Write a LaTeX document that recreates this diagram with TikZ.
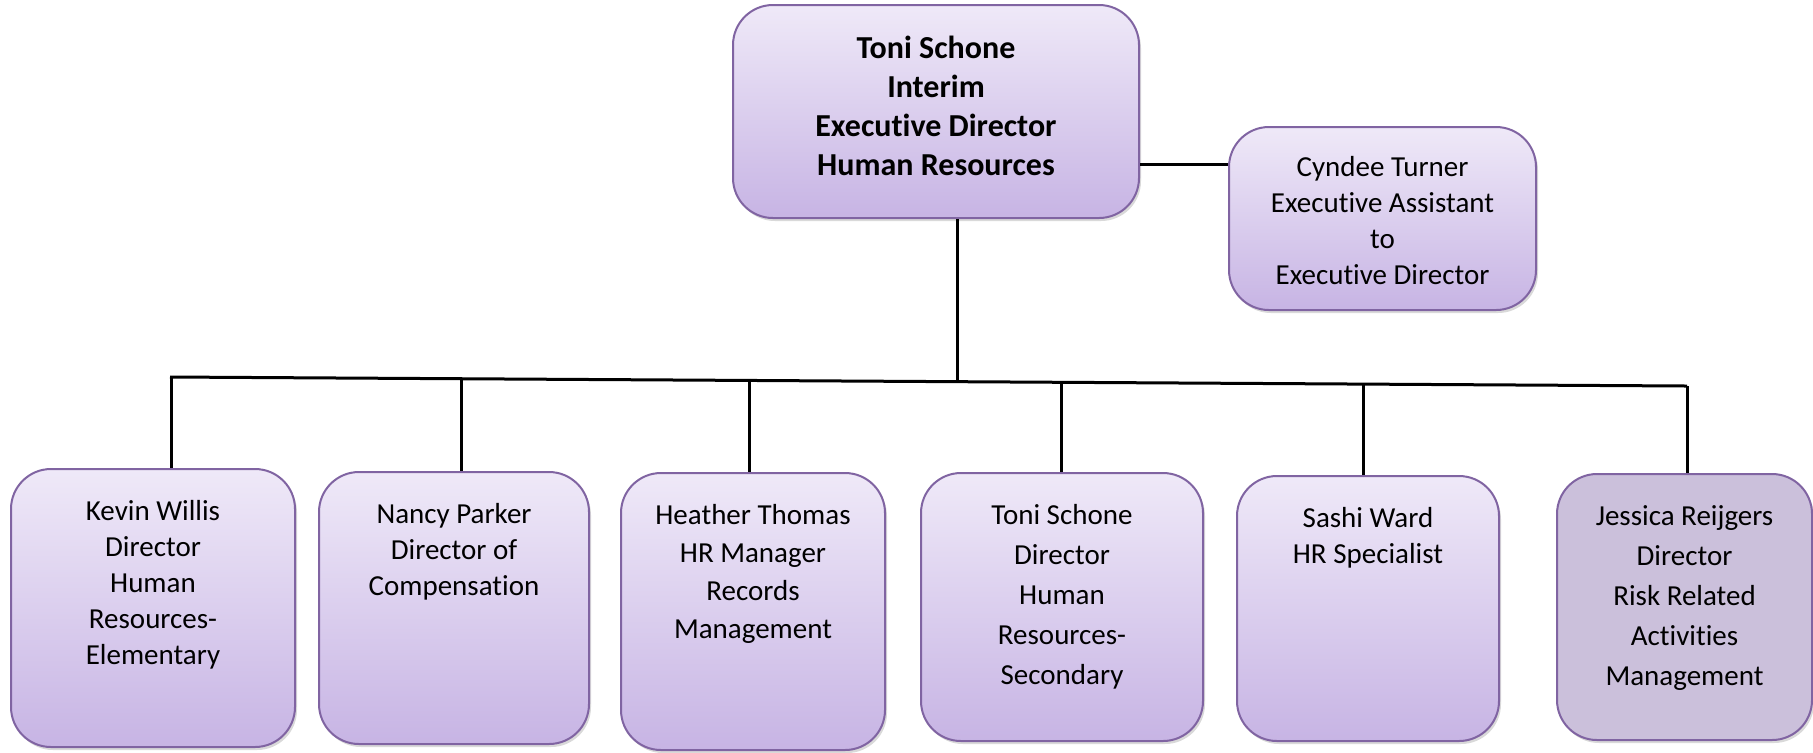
\documentclass[tikz,border=0pt]{standalone}
\usepackage{fontspec}
\setmainfont{Carlito}[Ligatures=NoCommon]
\usepackage{xcolor}
\usepackage{tikz}
\usetikzlibrary{calc}
\usetikzlibrary{shadows}

\definecolor{boxline}{HTML}{8064A2}
\definecolor{boxtop}{HTML}{EFE9F8}
\definecolor{boxbottom}{HTML}{C7B4E4}
\definecolor{riskfill}{HTML}{CBC0DB}

\tikzset{
    boxbase/.style={draw=boxline, line width=1pt, rounded corners=20pt,
        drop shadow={opacity=0.3, shadow xshift=1pt, shadow yshift=-1.5pt}},
    orgbox/.style={boxbase, top color=boxtop, bottom color=boxbottom},
    riskbox/.style={boxbase, fill=riskfill},
    orgtext/.style={anchor=north, align=center, inner sep=0pt, yshift=-16pt,
        font=\fontsize{14.5}{18}\selectfont},
    link/.style={line width=1.5pt}
}

\begin{document}
\begin{tikzpicture}[x=0.5pt, y=-0.5pt]
            \useasboundingbox (0,0) rectangle (1813,752);

            %%% COORDINATES %%%
            \coordinate (busL) at (170,377);
            \coordinate (busR) at (1687,386);
            \coordinate (hub) at (957,381.7);
            \coordinate (aside) at (1180,164);
            \coordinate (tap1) at (171,377);
            \coordinate (tap2) at (461,378.7);
            \coordinate (tap3) at (749,380.4);
            \coordinate (tap4) at (1061,382.3);
            \coordinate (tap5) at (1363,384.1);
            \coordinate (tap6) at (1687,386);

            %%% BOXES %%%
            \node[orgbox, minimum width=203pt, minimum height=106.5pt] (head) at (936,111.5) {};
            \node[orgbox, minimum width=153.5pt, minimum height=91.5pt] (assist) at (1382.5,218.5) {};
            \node[orgbox, minimum width=142pt, minimum height=139pt] (kevin) at (153,608) {};
            \node[orgbox, minimum width=135pt, minimum height=136pt] (nancy) at (454,608) {};
            \node[orgbox, minimum width=132pt, minimum height=138.5pt] (heather) at (753,611.5) {};
            \node[orgbox, minimum width=141pt, minimum height=134pt] (toni) at (1062,607) {};
            \node[orgbox, minimum width=131pt, minimum height=132.5pt] (sashi) at (1368,608.5) {};
            \node[riskbox, minimum width=127.5pt, minimum height=133pt] (jessica) at (1684.5,607) {};

            %%% TEXTS %%%
            \node[orgtext, font=\fontsize{16}{19.5}\selectfont\bfseries] (headtxt) at (head.north)
                {Toni Schone\\Interim\\Executive Director\\Human Resources};
            \node[orgtext, yshift=1pt] (assisttxt) at (assist.north)
                {Cyndee Turner\\Executive Assistant\\to\\Executive Director};
            \node[orgtext] (kevintxt) at (kevin.north)
                {Kevin Willis\\Director\\Human\\Resources-\\Elementary};
            \node[orgtext] (nancytxt) at (nancy.north)
                {Nancy Parker\\Director of\\Compensation};
            \node[orgtext, font=\fontsize{14.5}{19}\selectfont] (heathertxt) at (heather.north)
                {Heather Thomas\\HR Manager\\Records\\Management};
            \node[orgtext, font=\fontsize{14.5}{20}\selectfont] (tonitxt) at (toni.north)
                {Toni Schone\\Director\\Human\\Resources-\\Secondary};
            \node[orgtext] (sashitxt) at (sashi.north)
                {Sashi Ward\\HR Specialist};
            \node[orgtext, font=\fontsize{14.5}{20}\selectfont] (jessicatxt) at (jessica.north)
                {Jessica Reijgers\\Director\\Risk Related\\Activities\\Management};

            %%% LINES %%%
            \draw[link] (aside -| head.east) -- (aside -| assist.west);
            \draw[link] (hub |- head.south) -- (hub);
            \draw[link] (busL) -- (busR);
            \foreach \t/\b in {tap1/kevin, tap2/nancy, tap3/heather, tap4/toni, tap5/sashi, tap6/jessica}
                \draw[link] (\t) -- (\t |- \b.north);
        \end{tikzpicture}
\end{document}
